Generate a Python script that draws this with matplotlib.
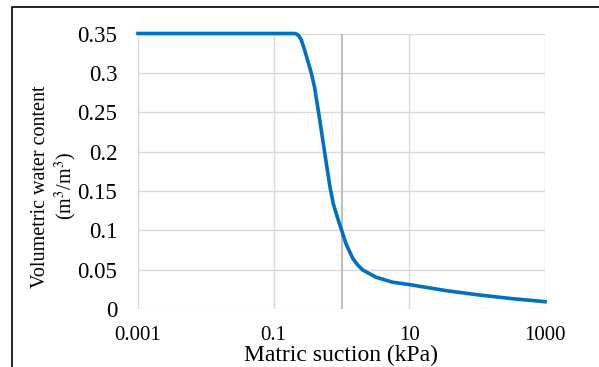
import numpy as np
import matplotlib
matplotlib.use("Agg")
import matplotlib.pyplot as plt
from matplotlib.patches import Rectangle

plt.rcParams['font.family'] = ['Liberation Serif', 'DejaVu Serif']
plt.rcParams['mathtext.fontset'] = 'stix'

# soil water retention curve
suction = [0.001, 0.01, 0.1, 0.2, 0.215, 0.233, 0.255, 0.286, 0.319, 0.358, 0.40,
           0.459, 0.562, 0.676, 0.76, 0.88, 1.0, 1.17, 1.47, 1.75, 2.06, 3.24, 5.69,
           10, 35, 107, 331, 1000]
theta = [0.35, 0.35, 0.35, 0.35, 0.3495, 0.3475, 0.342, 0.329, 0.315, 0.30, 0.282,
         0.25, 0.20, 0.155, 0.133, 0.115, 0.1005, 0.0825, 0.064, 0.0555, 0.0495, 0.0403, 0.034,
         0.031, 0.0233, 0.0178, 0.0131, 0.0093]

xticks = [0.001, 0.1, 10, 1000]
xtick_labels = ['0.001', '0.1', '10', '1000']
yticks = [0, 0.05, 0.1, 0.15, 0.2, 0.25, 0.3, 0.35]
ytick_labels = ['0', '0.05', '0.1', '0.15', '0.2', '0.25', '0.3', '0.35']

fig = plt.figure(figsize=(5.99, 3.67), dpi=100)
ax = fig.add_axes([138/599, 1-309/367, 407/599, 275.5/367])

ax.set_xscale('log')
ax.set_xlim(0.001, 1000)
ax.set_ylim(0, 0.35)
ax.set_xticks(xticks)
ax.set_xticklabels(xtick_labels)
ax.set_yticks(yticks)
ax.set_yticklabels(ytick_labels)
ax.minorticks_off()
ax.tick_params(length=0)
ax.tick_params(axis='y', pad=15, labelsize=16.5)
ax.tick_params(axis='x', pad=12, labelsize=15)

ax.grid(True, color='#d9d9d9', linewidth=1.0)
ax.set_axisbelow(True)
for s in ax.spines.values():
    s.set_visible(False)

# vertical axis crossing at 1 kPa
ax.axvline(1, color='#bfbfbf', linewidth=1.5, zorder=1)

ax.plot(suction, theta, color='#0070c0', linewidth=2.6, zorder=3, clip_on=False,
        solid_joinstyle='round')

ax.set_xlabel('Matric suction (kPa)', fontsize=17, labelpad=0)
fig.text(41/599, 1-187/367, 'Volumetric water content', rotation=90,
         fontsize=14.5, ha='center', va='center')
fig.text(66/599, 1-186/367, '(m$^3$/m$^3$)', rotation=90,
         fontsize=14.5, ha='center', va='center')

# outer frame
fig.patches.append(Rectangle((12/599, -0.1), 1.2, 1.1 - 7/367, transform=fig.transFigure,
                             fill=False, edgecolor='black', linewidth=1.2))

fig.savefig('out.png', dpi=100)
